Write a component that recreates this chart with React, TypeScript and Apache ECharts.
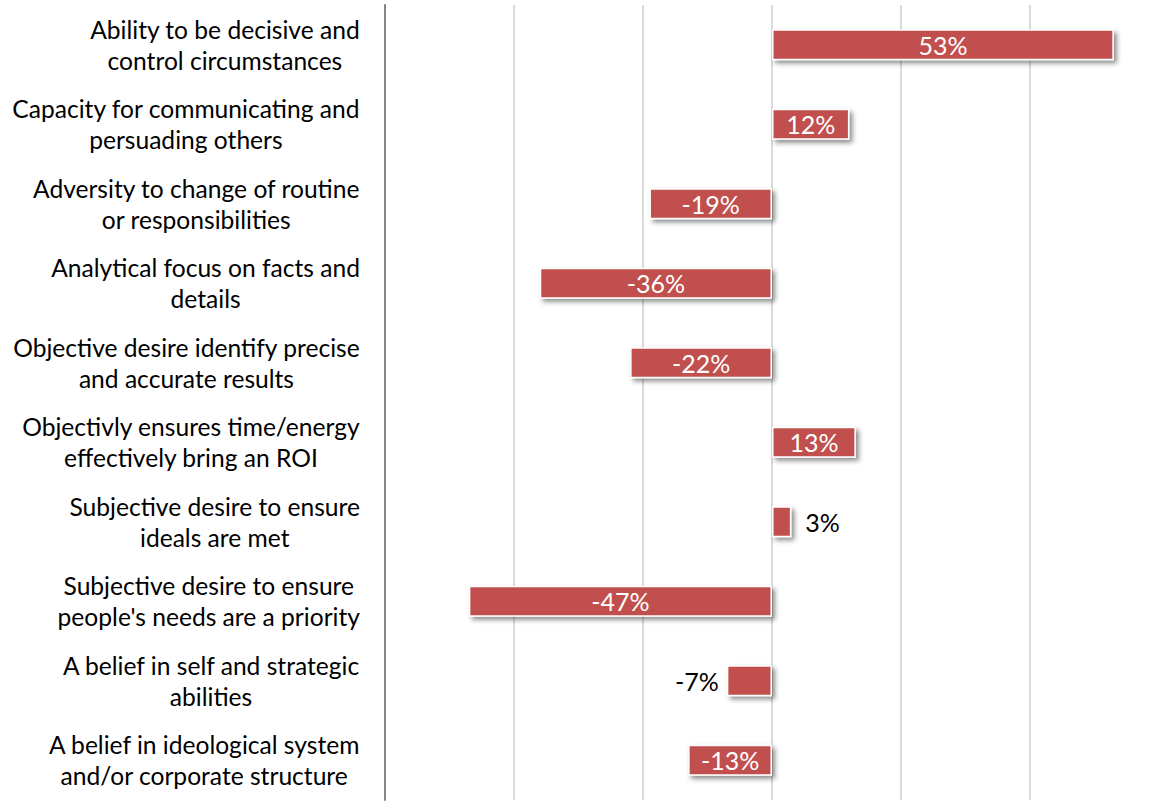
import React, { useEffect, useRef } from "react";
import * as echarts from "echarts";

const categories: string[] = [
  "Ability to be decisive and\ncontrol circumstances",
  "Capacity for communicating and\npersuading others",
  "Adversity to change of routine\nor responsibilities",
  "Analytical focus on facts and\ndetails",
  "Objective desire identify precise\nand accurate results",
  "Objectivly ensures time/energy\neffectively bring an ROI",
  "Subjective desire to ensure\nideals are met",
  "Subjective desire to ensure\npeople's needs are a priority",
  "A belief in self and strategic\nabilities",
  "A belief in ideological system\nand/or corporate structure",
];
const values: number[] = [53, 12, -19, -36, -22, 13, 3, -47, -7, -13];
// label placement per bar: "inside" | "right" | "left"
const labelPlacement: string[] = [
  "inside", "inside", "inside", "inside", "inside",
  "inside", "right", "inside", "left", "inside",
];
const axisMin = -60;
const axisMax = 60;
const axisStep = 20;

const FONT = "Lato, 'Open Sans', sans-serif";

export default function App() {
  const ref = useRef<HTMLDivElement>(null);
  useEffect(() => {
    document.body.style.margin = "0";
    document.body.style.overflow = "hidden";
    const chart = echarts.init(ref.current!, null, { renderer: "svg" });
    const data = values.map((v, i) => {
      const p = labelPlacement[i];
      return {
        value: v,
        label:
          p === "inside"
            ? { position: "inside", color: "#ffffff" }
            : { position: p, color: "#000000", distance: p === "right" ? 14 : 8 },
      };
    });
    chart.setOption({
      animation: false,
      grid: { left: 385, right: 1, top: 5, bottom: 1, containLabel: false },
      xAxis: {
        type: "value",
        min: axisMin,
        max: axisMax,
        interval: axisStep,
        axisLabel: { show: false },
        axisTick: { show: false },
        axisLine: { show: false },
        splitLine: { show: true, lineStyle: { color: "#dadada", width: 2 } },
      },
      yAxis: {
        type: "category",
        data: categories,
        inverse: true,
        axisTick: { show: false },
        axisLine: { show: true, onZero: false, lineStyle: { color: "#868686", width: 2 } },
        axisLabel: {
          margin: 25,
          fontFamily: FONT,
          fontSize: 24.6,
          lineHeight: 31,
          color: "#000",
          formatter: (v: string) =>
            v.split("\n").map((l) => `{c|${l}}`).join("\n"),
          rich: {
            c: {
              align: "center",
              fontFamily: FONT,
              fontSize: 24.6,
              lineHeight: 31,
              color: "#000",
            },
          },
        },
      },
      series: [
        {
          type: "bar",
          data,
          barWidth: 31,
          itemStyle: {
            color: "#C0504D",
            borderColor: "#ffffff",
            borderWidth: 1.5,
            shadowColor: "rgba(0,0,0,0.45)",
            shadowBlur: 5,
            shadowOffsetX: 3,
            shadowOffsetY: 3,
          },
          label: {
            show: true,
            formatter: "{c}%",
            fontFamily: FONT,
            fontSize: 25,
          },
        },
      ],
    });
    return () => chart.dispose();
  }, []);
  return <div ref={ref} style={{ width: 1160, height: 801 }} />;
}
